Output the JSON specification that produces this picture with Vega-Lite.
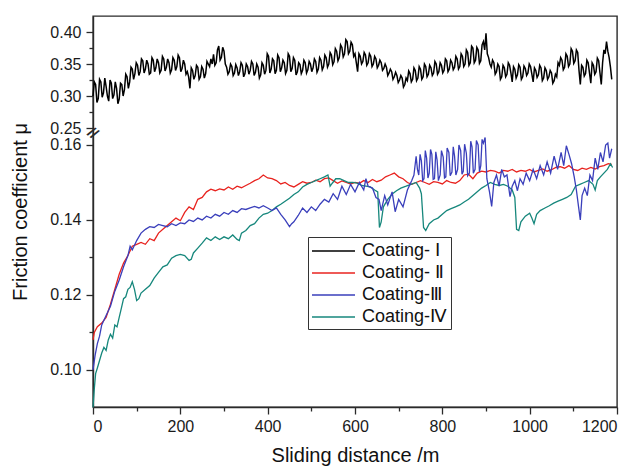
{
"$schema": "https://vega.github.io/schema/vega-lite/v6.json",
"width": 524,
"height": 391,
"autosize": {"type": "none"},
"padding": {"left": 93, "top": 16, "right": 19, "bottom": 59},
"background": "white",
"config": {
 "view": {"stroke": "#2a2a2a", "strokeWidth": 1.4},
 "font": "Liberation Sans",
 "axis": {"labelFont": "Liberation Sans", "titleFont": "Liberation Sans", "labelColor": "#1a1a1a", "titleColor": "#111", "domainColor": "#2a2a2a", "domainWidth": 1.4, "tickColor": "#2a2a2a", "tickWidth": 1.3, "grid": false, "titleFontWeight": "normal", "labelFontSize": 16, "titleFontSize": 20},
 "legend": {"orient": "none", "legendX": 215, "legendY": 221, "strokeColor": "#333", "padding": 3, "symbolType": "M-1,0H3.3", "symbolSize": 400, "symbolStrokeWidth": 1.5, "labelFont": "Liberation Sans", "labelFontSize": 18, "labelColor": "#111", "rowPadding": 2, "labelOffset": 29, "fillColor": "white"}
},
"datasets": {
"c1": [
{"x":0,"y":0.300},{"x":3,"y":0.322},{"x":6,"y":0.318},{"x":9,"y":0.290},{"x":12,"y":0.296},{"x":15,"y":0.326},{"x":18,"y":0.322},{"x":21,"y":0.298},{"x":24,"y":0.305},{"x":27,"y":0.328},{"x":30,"y":0.315},{"x":33,"y":0.300},{"x":36,"y":0.292},{"x":39,"y":0.325},{"x":42,"y":0.320},{"x":45,"y":0.296},{"x":48,"y":0.302},{"x":51,"y":0.322},{"x":54,"y":0.312},{"x":57,"y":0.288},{"x":60,"y":0.295},{"x":63,"y":0.320},{"x":66,"y":0.318},{"x":69,"y":0.300},{"x":72,"y":0.310},{"x":75,"y":0.334},{"x":78,"y":0.330},{"x":81,"y":0.312},{"x":84,"y":0.322},{"x":87,"y":0.345},{"x":90,"y":0.342},{"x":93,"y":0.326},{"x":96,"y":0.335},{"x":99,"y":0.352},{"x":102,"y":0.348},{"x":105,"y":0.332},{"x":108,"y":0.338},{"x":111,"y":0.358},{"x":114,"y":0.355},{"x":117,"y":0.336},{"x":120,"y":0.342},{"x":123,"y":0.356},{"x":126,"y":0.350},{"x":129,"y":0.334},{"x":132,"y":0.336},{"x":135,"y":0.360},{"x":138,"y":0.356},{"x":141,"y":0.338},{"x":144,"y":0.344},{"x":147,"y":0.358},{"x":150,"y":0.352},{"x":153,"y":0.336},{"x":156,"y":0.340},{"x":159,"y":0.362},{"x":162,"y":0.358},{"x":165,"y":0.339},{"x":168,"y":0.345},{"x":171,"y":0.358},{"x":174,"y":0.352},{"x":177,"y":0.336},{"x":180,"y":0.341},{"x":183,"y":0.360},{"x":186,"y":0.356},{"x":189,"y":0.340},{"x":192,"y":0.346},{"x":195,"y":0.364},{"x":198,"y":0.360},{"x":201,"y":0.338},{"x":204,"y":0.343},{"x":207,"y":0.356},{"x":210,"y":0.350},{"x":213,"y":0.334},{"x":216,"y":0.338},{"x":219,"y":0.330},{"x":222,"y":0.312},{"x":225,"y":0.344},{"x":228,"y":0.340},{"x":231,"y":0.326},{"x":234,"y":0.332},{"x":237,"y":0.348},{"x":240,"y":0.345},{"x":243,"y":0.326},{"x":246,"y":0.330},{"x":249,"y":0.346},{"x":252,"y":0.342},{"x":255,"y":0.328},{"x":258,"y":0.335},{"x":261,"y":0.354},{"x":264,"y":0.350},{"x":267,"y":0.346},{"x":270,"y":0.358},{"x":273,"y":0.350},{"x":276,"y":0.365},{"x":279,"y":0.348},{"x":282,"y":0.352},{"x":285,"y":0.372},{"x":288,"y":0.378},{"x":291,"y":0.356},{"x":294,"y":0.360},{"x":297,"y":0.376},{"x":300,"y":0.370},{"x":303,"y":0.350},{"x":306,"y":0.345},{"x":309,"y":0.334},{"x":312,"y":0.338},{"x":315,"y":0.350},{"x":318,"y":0.346},{"x":321,"y":0.332},{"x":324,"y":0.336},{"x":327,"y":0.349},{"x":330,"y":0.344},{"x":333,"y":0.332},{"x":336,"y":0.338},{"x":339,"y":0.352},{"x":342,"y":0.348},{"x":345,"y":0.330},{"x":348,"y":0.335},{"x":351,"y":0.350},{"x":354,"y":0.346},{"x":357,"y":0.334},{"x":360,"y":0.340},{"x":363,"y":0.354},{"x":366,"y":0.350},{"x":369,"y":0.332},{"x":372,"y":0.337},{"x":375,"y":0.350},{"x":378,"y":0.345},{"x":381,"y":0.328},{"x":384,"y":0.333},{"x":387,"y":0.352},{"x":390,"y":0.348},{"x":393,"y":0.334},{"x":396,"y":0.340},{"x":399,"y":0.366},{"x":402,"y":0.362},{"x":405,"y":0.336},{"x":408,"y":0.342},{"x":411,"y":0.358},{"x":414,"y":0.355},{"x":417,"y":0.335},{"x":420,"y":0.340},{"x":423,"y":0.364},{"x":426,"y":0.360},{"x":429,"y":0.338},{"x":432,"y":0.344},{"x":435,"y":0.356},{"x":438,"y":0.352},{"x":441,"y":0.335},{"x":444,"y":0.340},{"x":447,"y":0.366},{"x":450,"y":0.362},{"x":453,"y":0.338},{"x":456,"y":0.343},{"x":459,"y":0.360},{"x":462,"y":0.356},{"x":465,"y":0.333},{"x":468,"y":0.338},{"x":471,"y":0.352},{"x":474,"y":0.349},{"x":477,"y":0.335},{"x":480,"y":0.340},{"x":483,"y":0.356},{"x":486,"y":0.352},{"x":489,"y":0.336},{"x":492,"y":0.341},{"x":495,"y":0.354},{"x":498,"y":0.350},{"x":501,"y":0.338},{"x":504,"y":0.344},{"x":507,"y":0.358},{"x":510,"y":0.354},{"x":513,"y":0.337},{"x":516,"y":0.342},{"x":519,"y":0.360},{"x":522,"y":0.356},{"x":525,"y":0.341},{"x":528,"y":0.346},{"x":531,"y":0.364},{"x":534,"y":0.360},{"x":537,"y":0.345},{"x":540,"y":0.350},{"x":543,"y":0.368},{"x":546,"y":0.364},{"x":549,"y":0.349},{"x":552,"y":0.354},{"x":555,"y":0.374},{"x":558,"y":0.370},{"x":561,"y":0.355},{"x":564,"y":0.360},{"x":567,"y":0.380},{"x":570,"y":0.376},{"x":573,"y":0.361},{"x":576,"y":0.366},{"x":579,"y":0.388},{"x":582,"y":0.385},{"x":585,"y":0.366},{"x":588,"y":0.370},{"x":591,"y":0.384},{"x":594,"y":0.380},{"x":597,"y":0.362},{"x":600,"y":0.366},{"x":603,"y":0.352},{"x":606,"y":0.338},{"x":609,"y":0.366},{"x":612,"y":0.362},{"x":615,"y":0.350},{"x":618,"y":0.354},{"x":621,"y":0.368},{"x":624,"y":0.364},{"x":627,"y":0.348},{"x":630,"y":0.352},{"x":633,"y":0.366},{"x":636,"y":0.362},{"x":639,"y":0.346},{"x":642,"y":0.350},{"x":645,"y":0.362},{"x":648,"y":0.358},{"x":651,"y":0.344},{"x":654,"y":0.348},{"x":657,"y":0.356},{"x":660,"y":0.352},{"x":663,"y":0.340},{"x":666,"y":0.343},{"x":669,"y":0.350},{"x":672,"y":0.345},{"x":675,"y":0.332},{"x":678,"y":0.336},{"x":681,"y":0.342},{"x":684,"y":0.338},{"x":687,"y":0.326},{"x":690,"y":0.330},{"x":693,"y":0.337},{"x":696,"y":0.332},{"x":699,"y":0.321},{"x":702,"y":0.325},{"x":705,"y":0.332},{"x":708,"y":0.328},{"x":711,"y":0.314},{"x":714,"y":0.318},{"x":717,"y":0.328},{"x":720,"y":0.324},{"x":723,"y":0.339},{"x":726,"y":0.335},{"x":729,"y":0.322},{"x":732,"y":0.326},{"x":735,"y":0.344},{"x":738,"y":0.340},{"x":741,"y":0.324},{"x":744,"y":0.328},{"x":747,"y":0.346},{"x":750,"y":0.342},{"x":753,"y":0.326},{"x":756,"y":0.330},{"x":759,"y":0.350},{"x":762,"y":0.346},{"x":765,"y":0.330},{"x":768,"y":0.334},{"x":771,"y":0.348},{"x":774,"y":0.344},{"x":777,"y":0.332},{"x":780,"y":0.336},{"x":783,"y":0.354},{"x":786,"y":0.350},{"x":789,"y":0.334},{"x":792,"y":0.338},{"x":795,"y":0.352},{"x":798,"y":0.348},{"x":801,"y":0.336},{"x":804,"y":0.340},{"x":807,"y":0.358},{"x":810,"y":0.355},{"x":813,"y":0.338},{"x":816,"y":0.342},{"x":819,"y":0.356},{"x":822,"y":0.352},{"x":825,"y":0.341},{"x":828,"y":0.345},{"x":831,"y":0.362},{"x":834,"y":0.358},{"x":837,"y":0.342},{"x":840,"y":0.346},{"x":843,"y":0.366},{"x":846,"y":0.362},{"x":849,"y":0.346},{"x":852,"y":0.350},{"x":855,"y":0.372},{"x":858,"y":0.368},{"x":861,"y":0.348},{"x":864,"y":0.352},{"x":867,"y":0.378},{"x":870,"y":0.375},{"x":873,"y":0.352},{"x":876,"y":0.356},{"x":879,"y":0.376},{"x":882,"y":0.372},{"x":885,"y":0.351},{"x":888,"y":0.355},{"x":891,"y":0.380},{"x":894,"y":0.385},{"x":897,"y":0.372},{"x":900,"y":0.398},{"x":903,"y":0.366},{"x":906,"y":0.360},{"x":909,"y":0.350},{"x":912,"y":0.345},{"x":915,"y":0.356},{"x":918,"y":0.352},{"x":921,"y":0.334},{"x":924,"y":0.338},{"x":927,"y":0.350},{"x":930,"y":0.346},{"x":933,"y":0.326},{"x":936,"y":0.330},{"x":939,"y":0.348},{"x":942,"y":0.344},{"x":945,"y":0.330},{"x":948,"y":0.334},{"x":951,"y":0.352},{"x":954,"y":0.348},{"x":957,"y":0.336},{"x":960,"y":0.322},{"x":963,"y":0.346},{"x":966,"y":0.342},{"x":969,"y":0.328},{"x":972,"y":0.333},{"x":975,"y":0.349},{"x":978,"y":0.345},{"x":981,"y":0.326},{"x":984,"y":0.330},{"x":987,"y":0.347},{"x":990,"y":0.343},{"x":993,"y":0.332},{"x":996,"y":0.336},{"x":999,"y":0.350},{"x":1002,"y":0.346},{"x":1005,"y":0.334},{"x":1008,"y":0.322},{"x":1011,"y":0.344},{"x":1014,"y":0.340},{"x":1017,"y":0.329},{"x":1020,"y":0.333},{"x":1023,"y":0.348},{"x":1026,"y":0.344},{"x":1029,"y":0.324},{"x":1032,"y":0.328},{"x":1035,"y":0.344},{"x":1038,"y":0.340},{"x":1041,"y":0.326},{"x":1044,"y":0.330},{"x":1047,"y":0.340},{"x":1050,"y":0.336},{"x":1053,"y":0.320},{"x":1056,"y":0.324},{"x":1059,"y":0.334},{"x":1062,"y":0.330},{"x":1065,"y":0.352},{"x":1068,"y":0.348},{"x":1071,"y":0.360},{"x":1074,"y":0.356},{"x":1077,"y":0.341},{"x":1080,"y":0.345},{"x":1083,"y":0.366},{"x":1086,"y":0.362},{"x":1089,"y":0.346},{"x":1092,"y":0.350},{"x":1095,"y":0.374},{"x":1098,"y":0.370},{"x":1101,"y":0.351},{"x":1104,"y":0.355},{"x":1107,"y":0.372},{"x":1110,"y":0.368},{"x":1113,"y":0.340},{"x":1116,"y":0.318},{"x":1119,"y":0.348},{"x":1122,"y":0.345},{"x":1125,"y":0.331},{"x":1128,"y":0.335},{"x":1131,"y":0.356},{"x":1134,"y":0.352},{"x":1137,"y":0.336},{"x":1140,"y":0.320},{"x":1143,"y":0.352},{"x":1146,"y":0.348},{"x":1149,"y":0.334},{"x":1152,"y":0.338},{"x":1155,"y":0.359},{"x":1158,"y":0.355},{"x":1161,"y":0.336},{"x":1164,"y":0.318},{"x":1167,"y":0.352},{"x":1170,"y":0.372},{"x":1173,"y":0.366},{"x":1176,"y":0.385},{"x":1179,"y":0.370},{"x":1182,"y":0.360},{"x":1185,"y":0.345},{"x":1188,"y":0.326}
],
"c2": [
{"x":0,"y":0.108},{"x":3,"y":0.110},{"x":10,"y":0.1115},{"x":20,"y":0.1125},{"x":30,"y":0.114},{"x":40,"y":0.1175},{"x":50,"y":0.1215},{"x":60,"y":0.1255},{"x":70,"y":0.1285},{"x":80,"y":0.1305},{"x":90,"y":0.133},{"x":100,"y":0.1335},{"x":110,"y":0.134},{"x":120,"y":0.1335},{"x":130,"y":0.135},{"x":140,"y":0.1345},{"x":150,"y":0.1365},{"x":160,"y":0.1375},{"x":170,"y":0.1385},{"x":180,"y":0.1395},{"x":190,"y":0.1405},{"x":200,"y":0.1398},{"x":210,"y":0.142},{"x":220,"y":0.1435},{"x":230,"y":0.1428},{"x":240,"y":0.1455},{"x":250,"y":0.146},{"x":260,"y":0.1475},{"x":270,"y":0.1482},{"x":280,"y":0.1478},{"x":290,"y":0.1483},{"x":300,"y":0.148},{"x":310,"y":0.1488},{"x":320,"y":0.1482},{"x":330,"y":0.149},{"x":340,"y":0.1486},{"x":350,"y":0.1492},{"x":360,"y":0.1498},{"x":370,"y":0.1505},{"x":380,"y":0.151},{"x":390,"y":0.152},{"x":400,"y":0.1512},{"x":410,"y":0.151},{"x":420,"y":0.1505},{"x":430,"y":0.1496},{"x":440,"y":0.150},{"x":450,"y":0.1492},{"x":460,"y":0.1488},{"x":470,"y":0.1495},{"x":480,"y":0.1502},{"x":490,"y":0.1498},{"x":500,"y":0.150},{"x":510,"y":0.1506},{"x":520,"y":0.1502},{"x":530,"y":0.151},{"x":540,"y":0.1512},{"x":550,"y":0.1505},{"x":560,"y":0.1498},{"x":570,"y":0.1504},{"x":580,"y":0.150},{"x":590,"y":0.1496},{"x":600,"y":0.150},{"x":610,"y":0.1498},{"x":620,"y":0.1505},{"x":630,"y":0.150},{"x":640,"y":0.1508},{"x":650,"y":0.1502},{"x":660,"y":0.1506},{"x":670,"y":0.1515},{"x":680,"y":0.152},{"x":690,"y":0.1525},{"x":700,"y":0.1515},{"x":710,"y":0.151},{"x":720,"y":0.150},{"x":730,"y":0.1495},{"x":740,"y":0.150},{"x":750,"y":0.1505},{"x":760,"y":0.150},{"x":770,"y":0.1495},{"x":780,"y":0.1502},{"x":790,"y":0.150},{"x":800,"y":0.1496},{"x":810,"y":0.1505},{"x":820,"y":0.150},{"x":830,"y":0.1498},{"x":840,"y":0.1505},{"x":850,"y":0.152},{"x":860,"y":0.1522},{"x":870,"y":0.151},{"x":880,"y":0.1525},{"x":890,"y":0.153},{"x":900,"y":0.1528},{"x":910,"y":0.1532},{"x":920,"y":0.153},{"x":930,"y":0.1525},{"x":940,"y":0.1532},{"x":950,"y":0.153},{"x":960,"y":0.1535},{"x":970,"y":0.1528},{"x":980,"y":0.1532},{"x":990,"y":0.153},{"x":1000,"y":0.1535},{"x":1010,"y":0.1528},{"x":1020,"y":0.1532},{"x":1030,"y":0.1536},{"x":1040,"y":0.153},{"x":1050,"y":0.1534},{"x":1060,"y":0.154},{"x":1070,"y":0.1542},{"x":1080,"y":0.1538},{"x":1090,"y":0.1545},{"x":1100,"y":0.1535},{"x":1110,"y":0.1532},{"x":1120,"y":0.1538},{"x":1130,"y":0.1535},{"x":1140,"y":0.154},{"x":1150,"y":0.1536},{"x":1160,"y":0.1542},{"x":1170,"y":0.1545},{"x":1180,"y":0.155},{"x":1188,"y":0.1548}
],
"c3": [
{"x":0,"y":0.100},{"x":5,"y":0.104},{"x":10,"y":0.107},{"x":15,"y":0.109},{"x":20,"y":0.112},{"x":30,"y":0.1145},{"x":40,"y":0.117},{"x":50,"y":0.121},{"x":60,"y":0.124},{"x":70,"y":0.1275},{"x":80,"y":0.1305},{"x":85,"y":0.133},{"x":90,"y":0.132},{"x":100,"y":0.1345},{"x":110,"y":0.1365},{"x":120,"y":0.1375},{"x":130,"y":0.1382},{"x":140,"y":0.138},{"x":150,"y":0.1388},{"x":160,"y":0.1385},{"x":170,"y":0.1382},{"x":180,"y":0.139},{"x":190,"y":0.1385},{"x":200,"y":0.1392},{"x":210,"y":0.139},{"x":220,"y":0.140},{"x":230,"y":0.1396},{"x":240,"y":0.1405},{"x":250,"y":0.140},{"x":260,"y":0.141},{"x":270,"y":0.1405},{"x":280,"y":0.1415},{"x":290,"y":0.141},{"x":300,"y":0.142},{"x":310,"y":0.1415},{"x":320,"y":0.1425},{"x":330,"y":0.142},{"x":340,"y":0.143},{"x":350,"y":0.1428},{"x":360,"y":0.1432},{"x":370,"y":0.1436},{"x":380,"y":0.1432},{"x":390,"y":0.1438},{"x":400,"y":0.1432},{"x":410,"y":0.1425},{"x":420,"y":0.1432},{"x":430,"y":0.1415},{"x":440,"y":0.140},{"x":450,"y":0.1382},{"x":455,"y":0.139},{"x":460,"y":0.1395},{"x":470,"y":0.1412},{"x":480,"y":0.1432},{"x":490,"y":0.142},{"x":500,"y":0.1435},{"x":510,"y":0.1425},{"x":520,"y":0.1442},{"x":530,"y":0.1455},{"x":540,"y":0.1448},{"x":550,"y":0.147},{"x":560,"y":0.1455},{"x":570,"y":0.149},{"x":580,"y":0.1468},{"x":590,"y":0.1495},{"x":600,"y":0.1475},{"x":610,"y":0.150},{"x":620,"y":0.148},{"x":625,"y":0.151},{"x":630,"y":0.149},{"x":640,"y":0.1485},{"x":648,"y":0.146},{"x":655,"y":0.1455},{"x":660,"y":0.1425},{"x":668,"y":0.1465},{"x":675,"y":0.144},{"x":685,"y":0.1475},{"x":692,"y":0.1422},{"x":700,"y":0.1455},{"x":710,"y":0.1435},{"x":720,"y":0.148},{"x":730,"y":0.1505},{"x":735,"y":0.152},{"x":740,"y":0.157},{"x":743,"y":0.1535},{"x":746,"y":0.152},{"x":749,"y":0.1575},{"x":752,"y":0.1558},{"x":755,"y":0.1505},{"x":758,"y":0.151},{"x":761,"y":0.1585},{"x":764,"y":0.1565},{"x":767,"y":0.1512},{"x":770,"y":0.1525},{"x":773,"y":0.1588},{"x":776,"y":0.1575},{"x":779,"y":0.1508},{"x":782,"y":0.151},{"x":785,"y":0.1582},{"x":788,"y":0.156},{"x":791,"y":0.1505},{"x":795,"y":0.152},{"x":798,"y":0.1585},{"x":802,"y":0.1568},{"x":805,"y":0.1512},{"x":808,"y":0.1515},{"x":811,"y":0.1592},{"x":815,"y":0.158},{"x":818,"y":0.1518},{"x":822,"y":0.1528},{"x":825,"y":0.1595},{"x":828,"y":0.157},{"x":831,"y":0.152},{"x":835,"y":0.1535},{"x":838,"y":0.160},{"x":842,"y":0.1585},{"x":845,"y":0.1522},{"x":848,"y":0.153},{"x":851,"y":0.1602},{"x":855,"y":0.1578},{"x":858,"y":0.1518},{"x":862,"y":0.1525},{"x":865,"y":0.161},{"x":868,"y":0.1595},{"x":871,"y":0.1525},{"x":875,"y":0.1535},{"x":878,"y":0.1612},{"x":882,"y":0.160},{"x":885,"y":0.1528},{"x":888,"y":0.1545},{"x":891,"y":0.1615},{"x":894,"y":0.1605},{"x":898,"y":0.162},{"x":902,"y":0.151},{"x":908,"y":0.1475},{"x":913,"y":0.1436},{"x":918,"y":0.150},{"x":924,"y":0.152},{"x":930,"y":0.149},{"x":936,"y":0.1535},{"x":942,"y":0.1515},{"x":948,"y":0.152},{"x":955,"y":0.1462},{"x":960,"y":0.149},{"x":966,"y":0.1505},{"x":972,"y":0.1478},{"x":978,"y":0.151},{"x":985,"y":0.1495},{"x":992,"y":0.1525},{"x":1000,"y":0.1505},{"x":1008,"y":0.1535},{"x":1016,"y":0.151},{"x":1024,"y":0.1545},{"x":1032,"y":0.152},{"x":1040,"y":0.1555},{"x":1048,"y":0.1525},{"x":1056,"y":0.157},{"x":1064,"y":0.1535},{"x":1072,"y":0.158},{"x":1078,"y":0.1545},{"x":1084,"y":0.1598},{"x":1090,"y":0.1575},{"x":1096,"y":0.155},{"x":1102,"y":0.1515},{"x":1107,"y":0.148},{"x":1112,"y":0.1435},{"x":1116,"y":0.140},{"x":1120,"y":0.1465},{"x":1126,"y":0.1485},{"x":1132,"y":0.1465},{"x":1138,"y":0.152},{"x":1144,"y":0.1505},{"x":1150,"y":0.1565},{"x":1156,"y":0.1535},{"x":1162,"y":0.158},{"x":1168,"y":0.1555},{"x":1174,"y":0.160},{"x":1179,"y":0.1605},{"x":1183,"y":0.1565},{"x":1188,"y":0.159}
],
"c4": [
{"x":0,"y":0.090},{"x":3,"y":0.095},{"x":6,"y":0.099},{"x":10,"y":0.1005},{"x":15,"y":0.1025},{"x":20,"y":0.1045},{"x":25,"y":0.106},{"x":30,"y":0.1052},{"x":35,"y":0.108},{"x":40,"y":0.1095},{"x":45,"y":0.1085},{"x":50,"y":0.112},{"x":55,"y":0.1115},{"x":60,"y":0.114},{"x":65,"y":0.1165},{"x":70,"y":0.119},{"x":75,"y":0.1195},{"x":80,"y":0.1215},{"x":85,"y":0.122},{"x":90,"y":0.1235},{"x":95,"y":0.1215},{"x":100,"y":0.1185},{"x":105,"y":0.119},{"x":110,"y":0.1205},{"x":120,"y":0.1215},{"x":130,"y":0.1225},{"x":140,"y":0.1245},{"x":150,"y":0.126},{"x":160,"y":0.1275},{"x":170,"y":0.128},{"x":180,"y":0.1298},{"x":190,"y":0.1305},{"x":200,"y":0.1308},{"x":210,"y":0.1305},{"x":220,"y":0.1292},{"x":225,"y":0.1295},{"x":230,"y":0.1312},{"x":240,"y":0.1325},{"x":250,"y":0.1338},{"x":260,"y":0.1352},{"x":270,"y":0.1345},{"x":280,"y":0.1355},{"x":290,"y":0.1348},{"x":300,"y":0.1355},{"x":310,"y":0.135},{"x":320,"y":0.136},{"x":330,"y":0.1348},{"x":335,"y":0.1345},{"x":340,"y":0.1365},{"x":350,"y":0.1372},{"x":360,"y":0.1385},{"x":370,"y":0.139},{"x":380,"y":0.1405},{"x":390,"y":0.1415},{"x":400,"y":0.1418},{"x":410,"y":0.1425},{"x":420,"y":0.1435},{"x":430,"y":0.1442},{"x":440,"y":0.145},{"x":450,"y":0.1458},{"x":460,"y":0.1468},{"x":470,"y":0.1475},{"x":480,"y":0.1488},{"x":490,"y":0.1495},{"x":500,"y":0.150},{"x":510,"y":0.1505},{"x":520,"y":0.151},{"x":530,"y":0.1515},{"x":538,"y":0.152},{"x":543,"y":0.149},{"x":548,"y":0.1498},{"x":556,"y":0.151},{"x":565,"y":0.151},{"x":575,"y":0.1505},{"x":585,"y":0.150},{"x":595,"y":0.150},{"x":605,"y":0.1498},{"x":615,"y":0.1492},{"x":625,"y":0.149},{"x":635,"y":0.1488},{"x":645,"y":0.148},{"x":652,"y":0.1475},{"x":656,"y":0.138},{"x":660,"y":0.1395},{"x":665,"y":0.1435},{"x":675,"y":0.1455},{"x":686,"y":0.147},{"x":695,"y":0.1478},{"x":705,"y":0.1485},{"x":717,"y":0.149},{"x":728,"y":0.1495},{"x":740,"y":0.150},{"x":748,"y":0.1485},{"x":752,"y":0.147},{"x":757,"y":0.138},{"x":762,"y":0.1372},{"x":770,"y":0.139},{"x":780,"y":0.140},{"x":790,"y":0.1405},{"x":800,"y":0.1415},{"x":810,"y":0.1425},{"x":820,"y":0.143},{"x":830,"y":0.1435},{"x":840,"y":0.144},{"x":850,"y":0.1448},{"x":860,"y":0.1455},{"x":870,"y":0.1465},{"x":880,"y":0.1475},{"x":890,"y":0.1485},{"x":900,"y":0.1492},{"x":910,"y":0.150},{"x":920,"y":0.1495},{"x":930,"y":0.1492},{"x":940,"y":0.1495},{"x":950,"y":0.149},{"x":960,"y":0.148},{"x":966,"y":0.146},{"x":970,"y":0.1375},{"x":975,"y":0.1372},{"x":980,"y":0.1395},{"x":990,"y":0.141},{"x":1000,"y":0.1418},{"x":1005,"y":0.1405},{"x":1010,"y":0.139},{"x":1016,"y":0.1415},{"x":1024,"y":0.1425},{"x":1035,"y":0.1432},{"x":1045,"y":0.1438},{"x":1055,"y":0.1445},{"x":1065,"y":0.145},{"x":1075,"y":0.1455},{"x":1085,"y":0.146},{"x":1095,"y":0.1468},{"x":1105,"y":0.149},{"x":1115,"y":0.1495},{"x":1125,"y":0.150},{"x":1135,"y":0.1505},{"x":1145,"y":0.1495},{"x":1150,"y":0.148},{"x":1155,"y":0.1505},{"x":1162,"y":0.1515},{"x":1170,"y":0.1525},{"x":1178,"y":0.1535},{"x":1185,"y":0.155},{"x":1190,"y":0.154}
],
"brk": [{"x":0,"y":0.2,"t":"//"}]
},
"layer": [
{
 "data": {"name": "c1"},
 "mark": {"type": "line", "strokeWidth": 1.5},
 "encoding": {
  "x": {"field": "x", "type": "quantitative", "scale": {"domain": [0, 1200], "nice": false, "zero": false},
   "axis": {"title": "Sliding distance /m", "values": [0,100,200,300,400,500,600,700,800,900,1000,1100,1200], "tickCount": 40,
    "labelExpr": "datum.value % 200 == 0 ? format(datum.value, 'd') : ''",
    "tickSize": {"condition": {"test": "datum.value % 200 != 0", "value": 4}, "value": 7},
    "labelPadding": 4, "titlePadding": 11}},
  "y": {"field": "y", "type": "quantitative", "scale": {"domain": [0.0901, 0.1632, 0.2422, 0.425], "range": [391, 117, 117, 0], "nice": false, "zero": false},
   "axis": {"title": "Friction coefficient μ", "values": [0.10,0.11,0.12,0.13,0.14,0.15,0.16,0.25,0.275,0.30,0.325,0.35,0.375,0.40], "tickCount": 40,
    "labelExpr": "indexof([0.11,0.13,0.15,0.275,0.325,0.375], datum.value) >= 0 ? '' : format(datum.value, '.2f')",
    "tickSize": {"condition": {"test": "indexof([0.11,0.13,0.15,0.275,0.325,0.375], datum.value) >= 0", "value": 4}, "value": 7},
    "labelPadding": 5, "titlePadding": 19}},
  "color": {"datum": "Coating- Ⅰ", "type": "nominal",
   "scale": {"domain": ["Coating- Ⅰ", "Coating- Ⅱ", "Coating-Ⅲ", "Coating-Ⅳ"], "range": ["#000000", "#e8231f", "#3a3fbb", "#16877c"]},
   "legend": {"title": null}}
 }
},
{
 "data": {"name": "c2"},
 "mark": {"type": "line", "strokeWidth": 1.3},
 "encoding": {"x": {"field": "x", "type": "quantitative"}, "y": {"field": "y", "type": "quantitative"}, "color": {"datum": "Coating- Ⅱ", "type": "nominal"}}
},
{
 "data": {"name": "c4"},
 "mark": {"type": "line", "strokeWidth": 1.3},
 "encoding": {"x": {"field": "x", "type": "quantitative"}, "y": {"field": "y", "type": "quantitative"}, "color": {"datum": "Coating-Ⅳ", "type": "nominal"}}
},
{
 "data": {"name": "c3"},
 "mark": {"type": "line", "strokeWidth": 1.3},
 "encoding": {"x": {"field": "x", "type": "quantitative"}, "y": {"field": "y", "type": "quantitative"}, "color": {"datum": "Coating-Ⅲ", "type": "nominal"}}
},
{
 "data": {"name": "brk"},
 "mark": {"type": "text", "fontSize": 15, "fontWeight": "bold", "angle": 40, "color": "#2a2a2a", "font": "Liberation Sans"},
 "encoding": {"x": {"field": "x", "type": "quantitative"}, "y": {"field": "y", "type": "quantitative"}, "text": {"field": "t"}}
}
]
}
